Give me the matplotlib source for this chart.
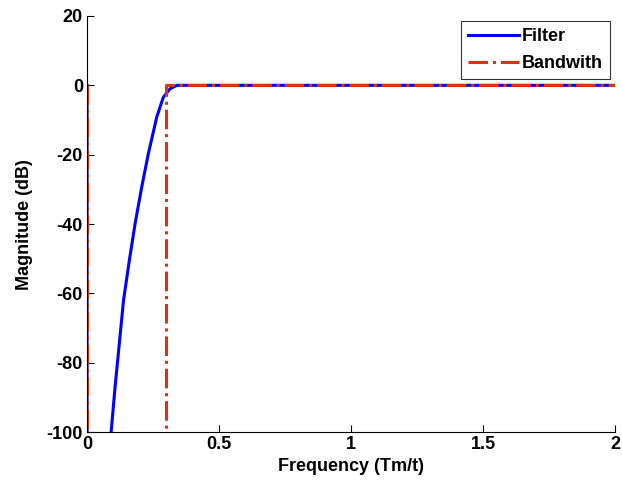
import matplotlib
matplotlib.use('Agg')
import matplotlib.pyplot as plt

plt.rcParams['font.family'] = ['Liberation Sans', 'DejaVu Sans']
plt.rcParams['axes.unicode_minus'] = False

# filter response, values below -100 are clipped by the axes
filter_freq = [0, 0, 0.08, 0.091, 0.106, 0.122, 0.138, 0.160, 0.182, 0.207,
               0.232, 0.264, 0.289, 0.314, 0.34, 0.5, 1.0, 1.5, 2.0]
filter_db = [0, -150, -150, -100, -87, -74.5, -62, -50.5, -39.8, -29.3,
             -19.7, -9.1, -3.4, -1.0, 0, 0, 0, 0, 0]

# ideal bandwidth
bw_freq = [0, 0, 0.3, 0.3, 2.0]
bw_db = [0, -150, -150, 0, 0]

fig = plt.figure(figsize=(6.22, 4.84), dpi=100)
ax = fig.add_axes([0.14, 0.107, 0.849, 0.86])

ax.plot(filter_freq, filter_db, color='#0000ff', lw=2.2, label='Filter')
ax.plot(bw_freq, bw_db, color='#e03010', lw=2.2, ls='-.', label='Bandwith')

ax.set_xlim(0, 2)
ax.set_ylim(-100, 20)
ax.set_xticks([0, 0.5, 1, 1.5, 2])
ax.set_xticklabels(['0', '0.5', '1', '1.5', '2'])
ax.set_yticks([-100, -80, -60, -40, -20, 0, 20])

ax.spines['top'].set_visible(False)
ax.spines['right'].set_visible(False)
ax.tick_params(direction='in', length=5, labelsize=13, width=0.8, pad=3)
for lab in ax.get_xticklabels() + ax.get_yticklabels():
    lab.set_fontweight('bold')

ax.set_xlabel('Frequency (Tm/t)', fontsize=13, fontweight='bold', labelpad=3)
ax.set_ylabel('Magnitude (dB)', fontsize=13, fontweight='bold', labelpad=10)

leg = ax.legend(loc='upper right', fancybox=False, edgecolor='black',
                prop={'size': 13, 'weight': 'bold'}, handlelength=2.8,
                borderpad=0.4, labelspacing=0.55, handletextpad=0.2,
                borderaxespad=0, bbox_to_anchor=(0.991, 0.988))
leg.get_frame().set_linewidth(0.8)

fig.savefig('out.png', dpi=100)
